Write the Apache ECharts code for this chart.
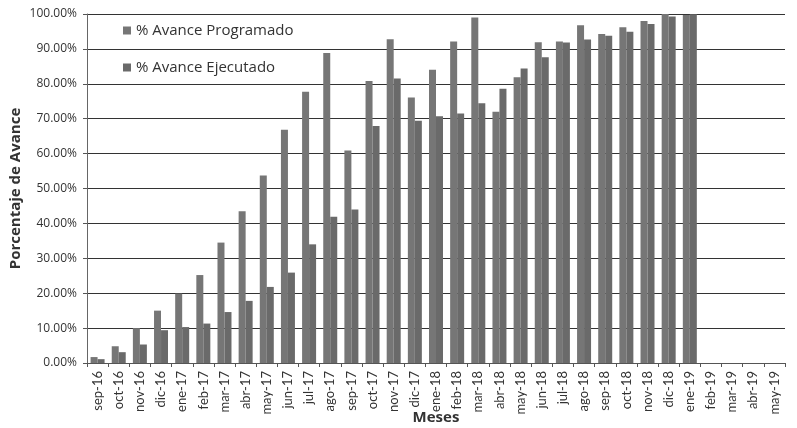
<!DOCTYPE html>
<html>
<head>
<meta charset="utf-8">
<script src="https://cdn.jsdelivr.net/npm/echarts@6/dist/echarts.min.js"></script>
<style>
html,body{margin:0;padding:0;background:#fff;overflow:hidden;}
#chart{width:797px;height:428px;}
</style>
</head>
<body>
<div id="chart"></div>
<script>
const categories = ['sep-16','oct-16','nov-16','dic-16','ene-17','feb-17','mar-17','abr-17','may-17','jun-17','jul-17','ago-17','sep-17','oct-17','nov-17','dic-17','ene-18','feb-18','mar-18','abr-18','may-18','jun-18','jul-18','ago-18','sep-18','oct-18','nov-18','dic-18','ene-19','feb-19','mar-19','abr-19','may-19'];
const programado = [1.7,4.8,10.0,15.0,19.9,25.2,34.5,43.5,53.7,66.8,77.7,88.8,60.9,80.8,92.8,76.1,84.0,92.1,99.0,72.0,81.9,91.9,92.1,96.8,94.3,96.2,98.0,100.0,99.7,null,null,null,null];
const ejecutado = [1.1,3.1,5.3,9.4,10.3,11.3,14.6,17.8,21.8,25.9,34.0,41.9,44.0,67.9,81.5,69.4,70.7,71.5,74.4,78.6,84.4,87.6,91.8,92.7,93.8,94.9,97.1,99.3,99.9,null,null,null,null];
const yTicks = [0,10,20,30,40,50,60,70,80,90,100];

const fontFam = 'Open Sans, Noto Sans, sans-serif';
const chart = echarts.init(document.getElementById('chart'), null, {renderer:'canvas', width:797, height:428});
chart.setOption({
  animation:false,
  backgroundColor:'#ffffff',
  textStyle:{fontFamily:fontFam},
  grid:{left:87,right:12,top:14,bottom:65,containLabel:false,outerBoundsMode:'none'},
  legend:{
    orient:'vertical',
    left:118, top:18,
    itemWidth:8, itemHeight:8, itemGap:22,
    icon:'rect',
    textStyle:{fontSize:15,color:'#333',fontFamily:fontFam},
    data:['% Avance Programado','% Avance Ejecutado']
  },
  xAxis:{
    type:'category',
    data:categories,
    name:'Meses',
    nameLocation:'middle',
    nameGap:47,
    nameMoveOverlap:false,
    nameTextStyle:{fontSize:15,fontWeight:'bold',color:'#333'},
    axisLine:{lineStyle:{color:'#555',width:1}},
    axisTick:{show:true,inside:false,length:4,lineStyle:{color:'#555'}},
    axisLabel:{rotate:90,fontSize:13,color:'#333',margin:8,interval:0,fontFamily:'Lato, Open Sans, sans-serif'}
  },
  yAxis:{
    type:'value',
    min:yTicks[0], max:yTicks[yTicks.length-1], interval:10,
    name:'Porcentaje de Avance',
    nameLocation:'middle',
    nameGap:64,
    nameMoveOverlap:false,
    nameTextStyle:{fontSize:15,fontWeight:'bold',color:'#333'},
    axisLine:{show:true,lineStyle:{color:'#666'}},
    axisTick:{show:true,length:4,lineStyle:{color:'#555'}},
    axisLabel:{fontSize:12,color:'#333',margin:10,formatter:v=>v.toFixed(2)+'%'},
    splitLine:{lineStyle:{color:'#333',width:1.2}}
  },
  series:[
    {name:'% Avance Programado',type:'bar',data:programado,barWidth:7,barGap:'0%',itemStyle:{color:'#767676'}},
    {name:'% Avance Ejecutado',type:'bar',data:ejecutado,barWidth:7,itemStyle:{color:'#6a6a6a'}}
  ]
});
</script>
</body>
</html>
